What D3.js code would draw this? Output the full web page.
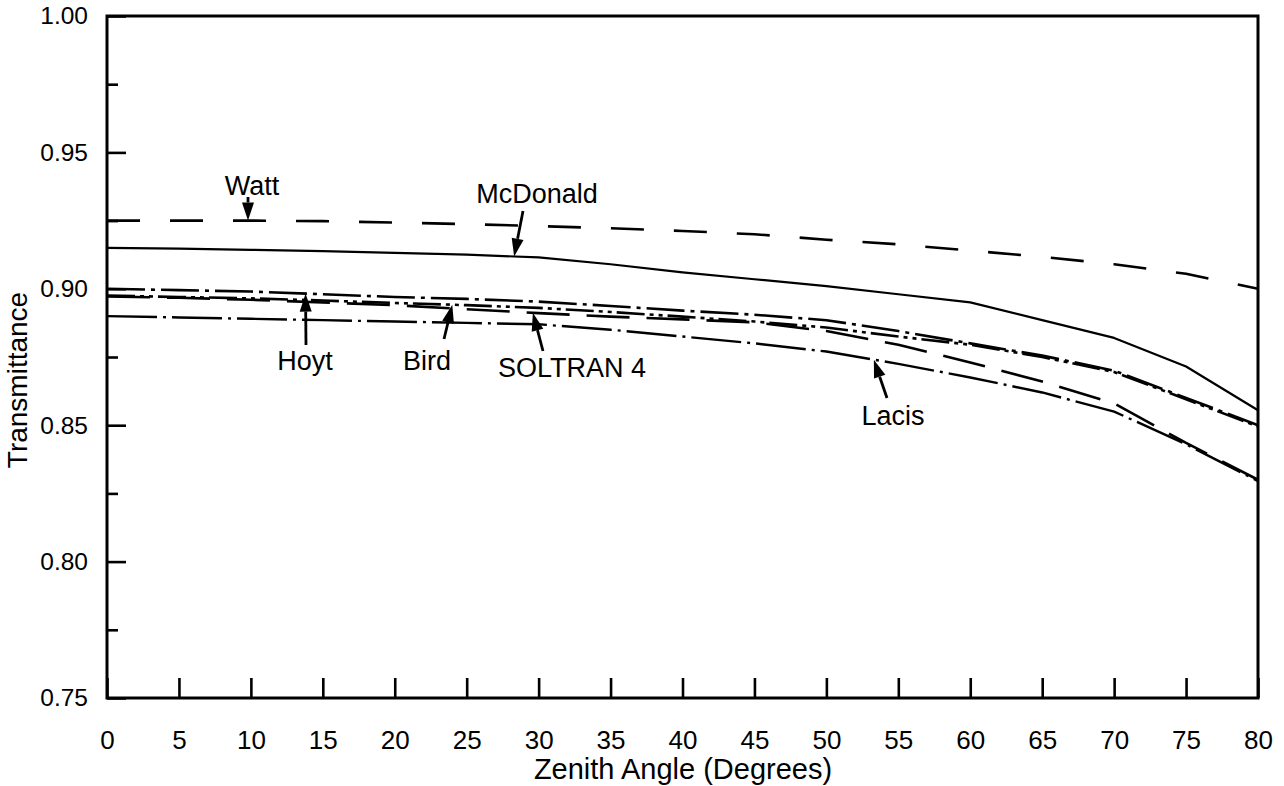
<!DOCTYPE html>
<html><head><meta charset="utf-8">
<script src="https://cdn.jsdelivr.net/npm/d3@7"></script>
<style>
html,body{margin:0;padding:0;background:#fff;}
svg text{font-family:"Liberation Sans",Arial,Helvetica,sans-serif;fill:#000;}
</style></head>
<body><svg id="c" width="1284" height="786"></svg>
<script>
// ---- data ----
const angles   = [0,5,10,15,20,25,30,35,40,45,50,55,60,65,70,75,80];
const watt     = [.925,.925,.925,.9248,.9243,.9237,.923,.9222,.9212,.920,.918,.9163,.914,.9117,.909,.9055,.900];
const mcdonald = [.915,.9147,.9143,.9138,.9132,.9125,.9115,.909,.906,.9035,.901,.898,.895,.8885,.882,.8715,.8555];
const hoyt     = [.900,.8995,.899,.898,.897,.8963,.8953,.8937,.892,.8905,.8885,.8845,.880,.8755,.870,.860,.850];
const bird     = [.8975,.897,.8965,.8957,.8948,.894,.893,.8915,.8898,.888,.8858,.8825,.8795,.875,.8695,.8595,.8495];
const soltran  = [.8972,.8967,.896,.895,.894,.8925,.8911,.8898,.8888,.8877,.8845,.8795,.873,.866,.858,.8435,.830];
const lacis    = [.890,.8895,.889,.8885,.888,.8875,.887,.885,.8825,.880,.877,.8725,.8675,.862,.855,.843,.8295];
const xTicks   = [0,5,10,15,20,25,30,35,40,45,50,55,60,65,70,75,80];
const yMajor   = [0.75,0.80,0.85,0.90,0.95,1.00];
const yMinor   = [0.775,0.825,0.875,0.925,0.975];
const seriesNames = ["Watt","McDonald","Hoyt","Bird","SOLTRAN 4","Lacis"];

// ---- layout ----
const L=107,R=1258,T=16,B=698;
const svg=d3.select("#c");
const x=d3.scaleLinear().domain([0,80]).range([L,R]);
const y=d3.scaleLinear().domain([0.75,1.0]).range([B,T]);

const series=[
  {name:"Watt",v:watt,dash:"33,30",w:2.6},
  {name:"McDonald",v:mcdonald,dash:null,w:2.2},
  {name:"Hoyt",v:hoyt,dash:"38,6,4,6",w:2.6},
  {name:"Bird",v:bird,dash:"28,5,4,5,4,5",w:2.6},
  {name:"SOLTRAN 4",v:soltran,dash:"43,17",w:2.6},
  {name:"Lacis",v:lacis,dash:"50,6,3,6",w:2.4}
];
const line=d3.line().x((d,i)=>x(angles[i])).y(d=>y(d));
series.forEach(s=>{
  svg.append("path").attr("d",line(s.v)).attr("fill","none").attr("stroke","#000")
    .attr("stroke-width",s.w).attr("stroke-dasharray",s.dash).attr("stroke-linejoin","round");
});

// ---- axes ----
const gx=svg.append("g").attr("transform",`translate(0,${B})`)
  .call(d3.axisBottom(x).tickValues(xTicks).tickSizeInner(-20).tickSizeOuter(0).tickPadding(33).tickFormat(d3.format("d")));
const gy=svg.append("g").attr("transform",`translate(${L},0)`)
  .call(d3.axisLeft(y).tickValues(yMajor).tickSizeInner(-19).tickSizeOuter(0).tickPadding(19).tickFormat(d3.format(".2f")));
const gy2=svg.append("g").attr("transform",`translate(${L},0)`)
  .call(d3.axisLeft(y).tickValues(yMinor).tickSizeInner(-11).tickSizeOuter(0).tickFormat(""));
[gx,gy,gy2].forEach(g=>{
  g.select(".domain").remove();
  g.selectAll(".tick line").attr("stroke","#000").attr("stroke-width",2.6);
  g.selectAll("text").attr("font-family","Liberation Sans, Arial, sans-serif").attr("fill","#000");
});
gx.selectAll("text").attr("font-size",26);
gy.selectAll("text").attr("font-size",24.5);
svg.append("rect").attr("x",L).attr("y",T).attr("width",R-L).attr("height",B-T)
  .attr("fill","none").attr("stroke","#000").attr("stroke-width",3);

svg.append("text").attr("x",683).attr("y",779).attr("text-anchor","middle")
  .attr("font-size",29).text("Zenith Angle (Degrees)");
svg.append("text").attr("transform","translate(27,380) rotate(-90)").attr("text-anchor","middle")
  .attr("font-size",28).text("Transmittance");

// ---- annotations ----
function interp(v,a){ return d3.scaleLinear().domain(angles).range(v)(a); }
const ann=[
  {s:0,tx:252,ty:195,sx:248,sy:197,ta:9.8},
  {s:1,tx:537,ty:203,sx:523,sy:211,ta:28.3},
  {s:2,tx:305,ty:370,sx:306,sy:345,ta:13.8},
  {s:3,tx:427,ty:370,sx:444,sy:339,ta:24.0},
  {s:4,tx:572,ty:377,sx:543,sy:351,ta:29.6},
  {s:5,tx:893,ty:425,sx:887,sy:398,ta:53.3}
];
ann.forEach(a=>{
  const s=series[a.s];
  svg.append("text").attr("x",a.tx).attr("y",a.ty).attr("text-anchor","middle").attr("font-size",27).text(seriesNames[a.s]);
  const ex=x(a.ta), ey=y(interp(s.v,a.ta));
  const dx=ex-a.sx, dy=ey-a.sy, len=Math.hypot(dx,dy), ux=dx/len, uy=dy/len;
  const hl=18, hw=6;
  const bx=ex-ux*hl, by=ey-uy*hl;
  svg.append("line").attr("x1",a.sx).attr("y1",a.sy).attr("x2",bx).attr("y2",by).attr("stroke","#000").attr("stroke-width",2.8);
  svg.append("path").attr("d",`M${ex},${ey}L${bx-uy*hw},${by+ux*hw}L${bx+uy*hw},${by-ux*hw}Z`).attr("fill","#000");
});
</script></body></html>
